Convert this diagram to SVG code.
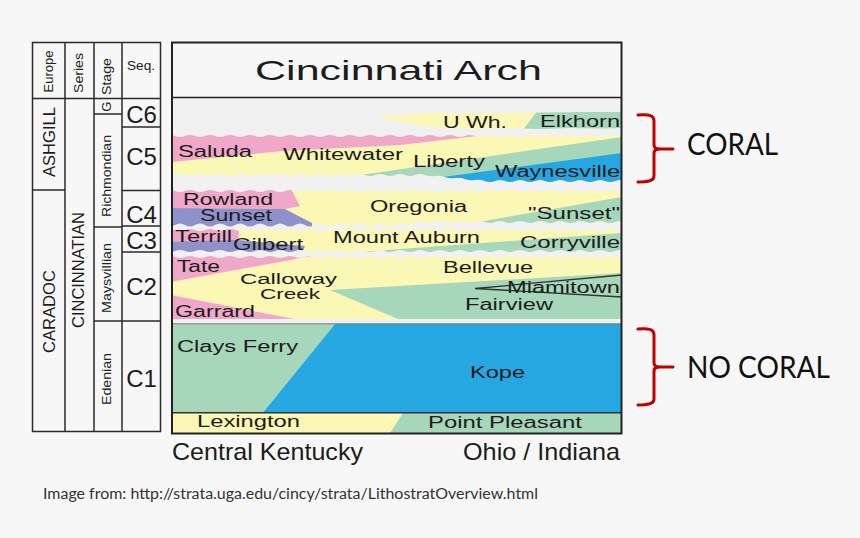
<svg xmlns="http://www.w3.org/2000/svg" width="860" height="538" viewBox="0 0 860 538">
<style>
.ln{stroke:#2a2a2a;stroke-width:1.5;fill:none}
.lab{font-family:"Liberation Sans",Arial,sans-serif;font-size:16px;fill:#1c1c1c}
.col{font-family:"Liberation Sans",Arial,sans-serif;font-size:13px;fill:#222}
.big{font-family:"Liberation Sans",Arial,sans-serif;font-size:17px;fill:#1c1c1c}
.seq{font-family:"Liberation Sans",Arial,sans-serif;font-size:24px;fill:#1c1c1c;text-anchor:middle}
.cal{font-family:Lato,"Open Sans",sans-serif;fill:#111}
.pk{fill:#f1a7c9}.ye{fill:#fbf7b5}.gr{fill:#a7d7ba}.bl{fill:#27a7e1}.lv{fill:#8e91ca}
.br{stroke:#c00000;stroke-width:3;fill:none;stroke-linecap:round;stroke-linejoin:round}
</style>
<defs>
<clipPath id="chart"><rect x="172" y="98" width="450" height="335"/></clipPath>
<clipPath id="c6"><polygon points="375,117 390,115.5 410,114.5 430,113 460,113.5 500,113 540,112.5 580,112 625,112 625,128 600,128.5 570,128 540,129 510,128 480,128.5 450,128 430,127 410,124 395,120"/></clipPath>
<clipPath id="c5"><path d="M165,136 q5,-2 10,0 t10,0 t10,0 t10,0 t10,0 t10,0 t10,0 t10,0 t10,0 t10,0 t10,0 t10,0 t10,0 t10,0 t10,0 t10,0 t10,0 t10,0 t10,0 t10,0 t10,0 t10,0 t10,0 t10,0 t10,0 t10,0 t10,0 t10,0 t10,0 t10,0 t10,0 t10,0 t10,0 t10,0 t10,0 t10,0 t10,0 t10,0 t10,0 t10,0 t10,0 t10,0 t10,0 t10,0 t10,0 t10,0 L635,181 q-5,2 -10,0 t-10,0 t-10,0 t-10,0 t-10,0 t-10,0 t-10,0 t-10,0 t-10,0 t-10,0 t-10,0 t-10,0 t-10,0 t-10,0 t-10,0 t-10,-1 t-10,-1 t-10,-1 t-10,-1 t-10,-1 t-10,-1 t-10,0 t-10,0 t-10,0 t-10,0 t-10,0 t-10,0 t-10,0 t-10,0 t-10,0 t-10,0 t-10,0 t-10,0 t-10,0 t-10,0 t-10,0 t-10,0 t-10,0 t-10,0 t-10,0 t-10,0 t-10,0 t-10,0 t-10,0 t-10,0 t-10,0 t-10,0 Z"/></clipPath>
<clipPath id="c4"><path d="M165,191 q5,-2 10,0 t10,0 t10,0 t10,0 t10,0 t10,0 t10,0 t10,0 t10,0 t10,0 t10,0 t10,0 t10,0 t10,0 t10,0 t10,0 t10,0 t10,0 t10,0 t10,0 t10,0 t10,0 t10,0 t10,0 t10,0 t10,0 t10,0 t10,0 t10,0 t10,0 t10,0 t10,0 t10,0 t10,0 t10,0 t10,0 t10,0 t10,0 t10,0 t10,0 t10,0 t10,0 t10,0 t10,0 t10,0 t10,0 t10,0 L635,222 q-5,2 -10,0 t-10,0 t-10,0 t-10,0 t-10,0 t-10,0 t-10,0 t-10,0 t-10,0 t-10,0 t-10,0 t-10,0 t-10,0 t-10,0 t-10,0 t-10,0 t-10,0 t-10,0 t-10,0 t-10,0 t-10,0 t-10,1 t-10,1 t-10,1 t-10,0 t-10,0 t-10,0 t-10,0 t-10,0 t-10,0 t-10,0 t-10,0 t-10,0 t-10,0 t-10,0 t-10,0 t-10,0 t-10,0 t-10,0 t-10,0 t-10,0 t-10,0 t-10,0 t-10,0 t-10,0 t-10,0 t-10,0 Z"/></clipPath>
<clipPath id="c3"><path d="M165,230 q5,-2 10,0 t10,0 t10,0 t10,0 t10,0 t10,0 t10,0 t10,0 t10,0 t10,0 t10,0 t10,0 t10,0 t10,0 t10,0 t10,0 t10,0 t10,0 t10,0 t10,0 t10,0 t10,0 t10,0 t10,0 t10,0 t10,0 t10,0 t10,0 t10,0 t10,0 t10,0 t10,0 t10,0 t10,0 t10,0 t10,0 t10,0 t10,0 t10,0 t10,0 t10,0 t10,0 t10,0 t10,0 t10,0 t10,0 t10,0 L635,251 q-5,2 -10,0 t-10,0 t-10,0 t-10,0 t-10,0 t-10,0 t-10,0 t-10,0 t-10,0 t-10,0 t-10,0 t-10,0 t-10,0 t-10,0 t-10,0 t-10,0 t-10,0 t-10,0 t-10,0 t-10,0 t-10,0 t-10,0 t-10,0 t-10,0 t-10,0 t-10,0 t-10,0 t-10,0 t-10,0 t-10,0 t-10,0 t-10,0 t-10,0 t-10,0 t-10,0 t-10,0 t-10,0 t-10,0 t-10,0 t-10,0 t-10,0 t-10,0 t-10,0 t-10,0 t-10,0 t-10,0 t-10,0 Z"/></clipPath>
<clipPath id="c2"><path d="M165,257 q5,-2 10,0 t10,0 t10,0 t10,0 t10,0 t10,0 t10,0 t10,0 t10,0 t10,0 t10,0 t10,0 t10,0 t10,0 t10,0 t10,0 t10,0 t10,0 t10,0 t10,0 t10,0 t10,0 t10,0 t10,0 t10,0 t10,0 t10,0 t10,0 t10,0 t10,0 t10,0 t10,0 t10,0 t10,0 t10,0 t10,0 t10,0 t10,0 t10,0 t10,0 t10,0 t10,0 t10,0 t10,0 t10,0 t10,0 t10,0 L635,319 L165,319 Z"/></clipPath>
</defs>

<rect width="860" height="538" fill="#f7f7f7"/>

<g id="strat-table">
<rect class="ln" x="32.5" y="42.5" width="128" height="389"/>
<line class="ln" x1="65" y1="42.5" x2="65" y2="431.5"/>
<line class="ln" x1="94" y1="42.5" x2="94" y2="431.5"/>
<line class="ln" x1="122" y1="42.5" x2="122" y2="431.5"/>
<line class="ln" x1="32.5" y1="98.5" x2="160.5" y2="98.5"/>
<line class="ln" x1="32.5" y1="190" x2="65" y2="190"/>
<line class="ln" x1="94" y1="114" x2="122" y2="114"/>
<line class="ln" x1="94" y1="227" x2="122" y2="227"/>
<line class="ln" x1="94" y1="321" x2="160.5" y2="321"/>
<line class="ln" x1="122" y1="127" x2="160.5" y2="127"/>
<line class="ln" x1="122" y1="190.5" x2="160.5" y2="190.5"/>
<line class="ln" x1="122" y1="226" x2="160.5" y2="226"/>
<line class="ln" x1="122" y1="252" x2="160.5" y2="252"/>
<text class="col" text-anchor="middle" textLength="42" lengthAdjust="spacingAndGlyphs" transform="translate(52.5,71.5) rotate(-90)">Europe</text>
<text class="col" text-anchor="middle" textLength="40" lengthAdjust="spacingAndGlyphs" transform="translate(83,73) rotate(-90)">Series</text>
<text class="col" text-anchor="middle" textLength="37" lengthAdjust="spacingAndGlyphs" transform="translate(111,76.5) rotate(-90)">Stage</text>
<text class="col" x="127" y="70" textLength="28" lengthAdjust="spacingAndGlyphs">Seq.</text>
<text class="col" text-anchor="middle" transform="translate(111,106.7) rotate(-90)">G</text>
<text class="col" text-anchor="middle" textLength="82" lengthAdjust="spacingAndGlyphs" transform="translate(111,176) rotate(-90)">Richmondian</text>
<text class="col" text-anchor="middle" textLength="70" lengthAdjust="spacingAndGlyphs" transform="translate(111,278) rotate(-90)">Maysvillian</text>
<text class="col" text-anchor="middle" textLength="52" lengthAdjust="spacingAndGlyphs" transform="translate(111,379) rotate(-90)">Edenian</text>
<text class="big" text-anchor="middle" textLength="70" lengthAdjust="spacingAndGlyphs" transform="translate(55,142) rotate(-90)">ASHGILL</text>
<text class="big" text-anchor="middle" textLength="83" lengthAdjust="spacingAndGlyphs" transform="translate(55,311.5) rotate(-90)">CARADOC</text>
<text class="big" text-anchor="middle" textLength="116" lengthAdjust="spacingAndGlyphs" transform="translate(84,270) rotate(-90)">CINCINNATIAN</text>
<text class="seq" x="141.5" y="123">C6</text>
<text class="seq" x="141.5" y="165">C5</text>
<text class="seq" x="141.5" y="223">C4</text>
<text class="seq" x="141.5" y="249">C3</text>
<text class="seq" x="141.5" y="295">C2</text>
<text class="seq" x="141.5" y="387">C1</text>
</g>

<g id="chart-bands" clip-path="url(#chart)">
<rect x="172" y="98" width="450" height="335" fill="#f1f1f1"/>
<g id="band-c6" clip-path="url(#c6)">
<rect class="ye" x="370" y="108" width="260" height="25"/>
<polygon class="gr" points="523,130 538,110 630,110 630,130"/>
</g>
<g id="band-c5" clip-path="url(#c5)">
<rect class="ye" x="165" y="125" width="470" height="65"/>
<polygon class="pk" points="165,125 500,125 495,134 400,145 283,151 172,162 165,163"/>
<polygon class="gr" points="313,182 622,137 635,136 635,195 313,195"/>
<polygon class="bl" points="405,182 622,153 635,152 635,195 405,195"/>
</g>
<g id="band-c4" clip-path="url(#c4)">
<rect class="ye" x="165" y="183" width="470" height="50"/>
<polygon class="pk" points="165,183 288,183 300,206 285,209 165,208"/>
<polygon class="lv" points="165,208 285,209 312,223 312,232 165,232"/>
<polygon class="gr" points="455,226 622,197 635,197 635,232"/>
</g>
<g id="band-c3" clip-path="url(#c3)">
<rect class="ye" x="165" y="224" width="470" height="34"/>
<polygon class="pk" points="165,224 240,224 238,241 165,242"/>
<polygon class="lv" points="165,242 238,240 305,246 300,258 165,258"/>
<polygon class="gr" points="360,252 622,233 635,233 635,258"/>
</g>
<g id="band-c2" clip-path="url(#c2)">
<rect class="ye" x="165" y="250" width="470" height="75"/>
<polygon class="pk" points="165,250 312,250 312,256 165,283"/>
<polygon class="pk" points="165,294 300,320 165,320"/>
<polygon class="gr" points="330,290 622,273 635,273 635,325 412,325"/>
<polyline points="622,275 475,288.5 622,297" fill="none" stroke="#333" stroke-width="1.3"/>
</g>
<g id="band-c1">
<polygon class="gr" points="172,324 335,324 263,412.5 172,412.5"/>
<polygon class="bl" points="335,324 622,324 622,412.5 263,412.5"/>
<line x1="172" y1="323.8" x2="622" y2="323.8" stroke="#777" stroke-width="1"/>
</g>
<g id="band-base">
<polygon class="ye" points="172,413 403,413 390,433 172,433"/>
<polygon class="gr" points="403,413 622,413 622,433 390,433"/>
<line x1="172" y1="412.8" x2="622" y2="412.8" stroke="#333" stroke-width="1.5"/>
</g>
</g>

<g id="chart-frame">
<rect x="172" y="42.5" width="449.5" height="391" fill="none" stroke="#222" stroke-width="2"/>
<line x1="172" y1="97.5" x2="621.5" y2="97.5" stroke="#222" stroke-width="1.5"/>
<text class="lab" x="255" y="80" style="font-size:28px" textLength="287" lengthAdjust="spacingAndGlyphs">Cincinnati Arch</text>
</g>

<g id="unit-labels">
<text class="lab" x="443" y="128" textLength="64" lengthAdjust="spacingAndGlyphs">U Wh.</text>
<text class="lab" x="540" y="127" textLength="80" lengthAdjust="spacingAndGlyphs">Elkhorn</text>
<text class="lab" x="178" y="157" textLength="74" lengthAdjust="spacingAndGlyphs">Saluda</text>
<text class="lab" x="283" y="160" textLength="120" lengthAdjust="spacingAndGlyphs">Whitewater</text>
<text class="lab" x="413" y="166.5" textLength="72" lengthAdjust="spacingAndGlyphs">Liberty</text>
<text class="lab" x="495" y="177" textLength="125" lengthAdjust="spacingAndGlyphs">Waynesville</text>
<text class="lab" x="183" y="204.5" textLength="90" lengthAdjust="spacingAndGlyphs">Rowland</text>
<text class="lab" x="200" y="220.5" textLength="72" lengthAdjust="spacingAndGlyphs">Sunset</text>
<text class="lab" x="370" y="211.7" textLength="97" lengthAdjust="spacingAndGlyphs">Oregonia</text>
<text class="lab" x="528" y="219" textLength="92" lengthAdjust="spacingAndGlyphs">"Sunset"</text>
<text class="lab" x="175" y="242" textLength="57" lengthAdjust="spacingAndGlyphs">Terrill</text>
<text class="lab" x="233" y="250" textLength="70" lengthAdjust="spacingAndGlyphs">Gilbert</text>
<text class="lab" x="333" y="243" textLength="147" lengthAdjust="spacingAndGlyphs">Mount Auburn</text>
<text class="lab" x="520" y="247.5" textLength="100" lengthAdjust="spacingAndGlyphs">Corryville</text>
<text class="lab" x="177" y="271.7" textLength="43" lengthAdjust="spacingAndGlyphs">Tate</text>
<text class="lab" x="240" y="283.5" style="font-size:15.5px" textLength="97" lengthAdjust="spacingAndGlyphs">Calloway</text>
<text class="lab" x="260" y="299" style="font-size:15.5px" textLength="60" lengthAdjust="spacingAndGlyphs">Creek</text>
<text class="lab" x="175" y="316.7" textLength="80" lengthAdjust="spacingAndGlyphs">Garrard</text>
<text class="lab" x="443" y="272.7" textLength="90" lengthAdjust="spacingAndGlyphs">Bellevue</text>
<text class="lab" x="507" y="293" textLength="113" lengthAdjust="spacingAndGlyphs">Miamitown</text>
<text class="lab" x="465" y="310" textLength="88" lengthAdjust="spacingAndGlyphs">Fairview</text>
<text class="lab" x="177" y="351.5" textLength="121" lengthAdjust="spacingAndGlyphs">Clays Ferry</text>
<text class="lab" x="470" y="378" textLength="55" lengthAdjust="spacingAndGlyphs">Kope</text>
<text class="lab" x="197" y="427.3" textLength="103" lengthAdjust="spacingAndGlyphs">Lexington</text>
<text class="lab" x="428" y="427.7" textLength="154" lengthAdjust="spacingAndGlyphs">Point Pleasant</text>
<text class="lab" x="172" y="460" style="font-size:24px" textLength="191" lengthAdjust="spacingAndGlyphs">Central Kentucky</text>
<text class="lab" x="463" y="460" style="font-size:24px" textLength="157" lengthAdjust="spacingAndGlyphs">Ohio / Indiana</text>
</g>

<g id="coral">
<path class="br" d="M638,115 C648,114 654,115 654,121 L654,145 Q654,149 660,149 L673,149 M660,149 Q654,149 654,153 L654,176 C654,181 648,182 638,182"/>
<text class="cal" x="687" y="155" style="font-size:30px" textLength="91" lengthAdjust="spacingAndGlyphs">CORAL</text>
</g>
<g id="no-coral">
<path class="br" d="M638,329 C648,328 654,329 654,335 L654,363 Q654,367 660,367 L673,367 M660,367 Q654,367 654,371 L654,399 C654,404 648,405 638,405"/>
<text class="cal" x="687" y="378" style="font-size:30px" textLength="143" lengthAdjust="spacingAndGlyphs">NO CORAL</text>
</g>

<text class="cal" x="43" y="499" style="font-size:15.5px;fill:#333" textLength="495" lengthAdjust="spacingAndGlyphs">Image from: http://strata.uga.edu/cincy/strata/LithostratOverview.html</text>
</svg>
